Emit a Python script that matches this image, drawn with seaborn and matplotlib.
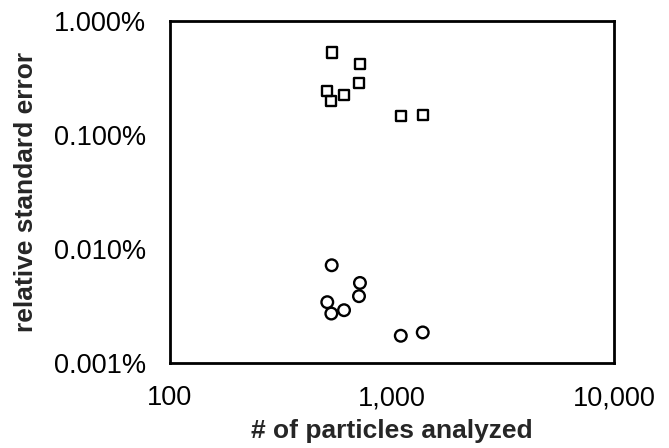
import numpy as np
import pandas as pd
import matplotlib
matplotlib.use("Agg")
import matplotlib.pyplot as plt
import matplotlib.ticker as mticker
import seaborn as sns

# Данные
particles = [535, 717, 710, 511, 533, 608, 1095, 1375]
rse_squares = [0.531, 0.417, 0.288, 0.245, 0.200, 0.223, 0.147, 0.149]
rse_circles = [0.00719, 0.00503, 0.00385, 0.00341, 0.00271, 0.00290, 0.00173, 0.00185]

x_ticks = [100, 1000, 10000]
y_ticks = [0.001, 0.01, 0.1, 1.0]

sns.set_theme(style="white")
plt.rcParams['font.family'] = ['Liberation Sans', 'DejaVu Sans']

df_sq = pd.DataFrame({"n": particles, "rse": rse_squares})
df_ci = pd.DataFrame({"n": particles, "rse": rse_circles})

fig = plt.figure(figsize=(6.69, 4.48), dpi=100)
ax = fig.add_axes([0.254, 0.190, 0.664, 0.763])

sns.scatterplot(data=df_sq, x="n", y="rse", marker="s", s=55,
                facecolors="none", edgecolor="black", linewidth=1.7, ax=ax)
sns.scatterplot(data=df_ci, x="n", y="rse", marker="o", s=70,
                facecolors="none", edgecolor="black", linewidth=1.7, ax=ax)

ax.set_xscale("log")
ax.set_yscale("log")
ax.set_xlim(100, 10000)
ax.set_ylim(0.001, 1.0)
ax.set_xticks(x_ticks)
ax.set_yticks(y_ticks)
ax.xaxis.set_minor_locator(mticker.NullLocator())
ax.yaxis.set_minor_locator(mticker.NullLocator())
ax.xaxis.set_major_formatter(mticker.FuncFormatter(lambda v, p: f"{v:,.0f}"))
ax.yaxis.set_major_formatter(mticker.FuncFormatter(lambda v, p: f"{v:.3f}%"))
ax.tick_params(axis="both", direction="in", length=4, width=1.5,
               labelsize=19.5, colors="black", pad=17)
ax.tick_params(axis="x", pad=16)

for sp in ax.spines.values():
    sp.set_color("black")
    sp.set_linewidth(2)

ax.set_xlabel("# of particles analyzed", fontsize=19, fontweight="bold")
ax.set_ylabel("relative standard error", fontsize=19, fontweight="bold")
ax.xaxis.set_label_coords(0.5, -0.165)
ax.yaxis.set_label_coords(-0.297, 0.5)

fig.savefig("out.png", dpi=100)
